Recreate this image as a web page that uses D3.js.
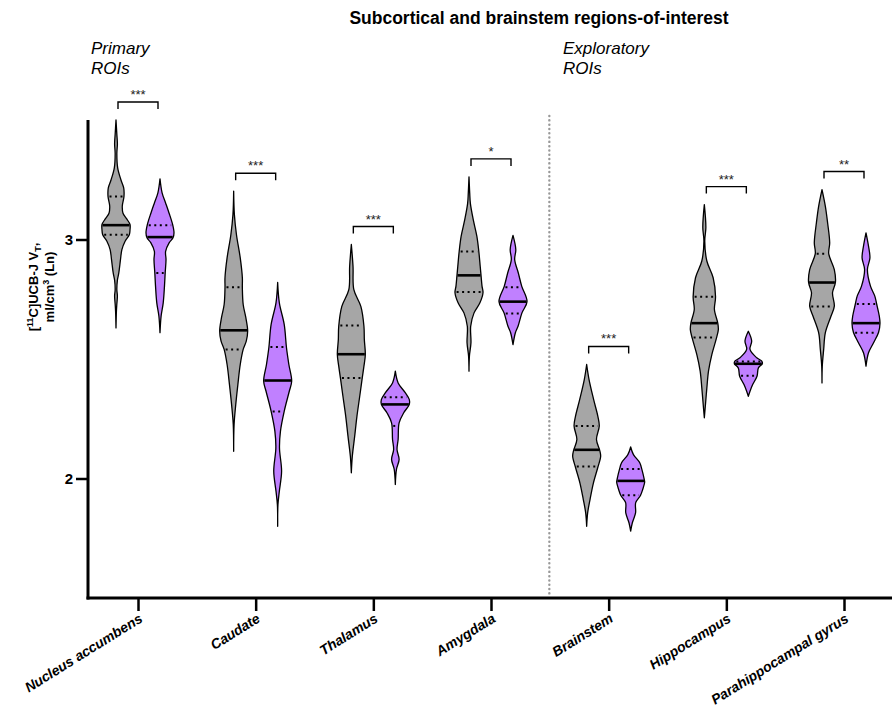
<!DOCTYPE html>
<html>
<head>
<meta charset="utf-8">
<script src="https://cdn.jsdelivr.net/npm/d3@7"></script>
<style>
  html, body { margin: 0; padding: 0; background: #fff; }
  svg { display: block; font-family: "Liberation Sans", Arial, sans-serif; }
</style>
</head>
<body>
<svg id="chart" width="892" height="713"></svg>
<script>
// Regions of interest and group comparison stars
const categories = ["Nucleus accumbens", "Caudate", "Thalamus", "Amygdala", "Brainstem", "Hippocampus", "Parahippocampal gyrus"];
const significance = ["***", "***", "***", "*", "***", "***", "**"];

// Summary statistics (Ln VT) for the gray group
const grayMedian = [3.06, 2.62, 2.52, 2.85, 2.12, 2.65, 2.82];
const grayQ1     = [3.02, 2.54, 2.42, 2.78, 2.05, 2.59, 2.72];
const grayQ3     = [3.18, 2.80, 2.64, 2.95, 2.22, 2.76, 2.94];

// Summary statistics (Ln VT) for the purple group
const purpleMedian = [3.01, 2.41, 2.31, 2.74, 1.99, 2.48, 2.65];
const purpleQ1     = [2.86, 2.28, 2.22, 2.69, 1.93, 2.43, 2.61];
const purpleQ3     = [3.06, 2.55, 2.34, 2.80, 2.04, 2.49, 2.73];

// Kernel density profiles: [value, relative density], from max to min
const grayDensity = [
  [[3.50,0],[3.44,0.06],[3.40,0.1],[3.36,0.06],[3.30,0.12],[3.25,0.35],[3.216,0.55],[3.18,0.57],[3.14,0.45],[3.11,0.5],[3.085,0.78],[3.063,1.0],[3.04,1.0],[3.02,0.95],[2.993,0.65],[2.958,0.42],[2.916,0.32],[2.86,0.2],[2.83,0.1],[2.79,0.06],[2.763,0.1],[2.73,0.06],[2.70,0.03],[2.63,0]],
  [[3.202,0],[3.105,0.05],[3.02,0.2],[2.923,0.47],[2.84,0.62],[2.798,0.62],[2.728,0.68],[2.673,0.87],[2.617,1.0],[2.575,0.9],[2.54,0.68],[2.477,0.47],[2.393,0.3],[2.31,0.15],[2.226,0.03],[2.114,0]],
  [[2.979,0],[2.888,0.12],[2.79,0.18],[2.72,0.68],[2.637,0.9],[2.58,0.93],[2.519,1.0],[2.47,0.9],[2.421,0.78],[2.344,0.6],[2.26,0.4],[2.177,0.24],[2.093,0.07],[2.024,0]],
  [[3.262,0],[3.195,0.05],[3.15,0.1],[3.084,0.3],[3.014,0.56],[2.951,0.7],[2.888,0.8],[2.849,0.86],[2.805,0.93],[2.777,1.0],[2.735,0.78],[2.693,0.36],[2.637,0.12],[2.568,0.14],[2.512,0.03],[2.449,0]],
  [[2.477,0],[2.414,0.17],[2.33,0.5],[2.26,0.8],[2.22,0.9],[2.163,0.7],[2.118,0.93],[2.093,1.0],[2.047,0.8],[1.981,0.48],[1.912,0.24],[1.856,0.07],[1.80,0]],
  [[3.146,0],[3.05,0.11],[2.993,0.03],[2.91,0.18],[2.84,0.63],[2.76,0.8],[2.707,0.72],[2.65,0.96],[2.623,1.0],[2.586,0.86],[2.519,0.54],[2.45,0.3],[2.379,0.18],[2.323,0.1],[2.254,0]],
  [[3.209,0],[3.139,0.24],[3.07,0.4],[2.986,0.55],[2.941,0.48],[2.874,0.88],[2.821,0.96],[2.777,0.75],[2.721,0.88],[2.679,0.64],[2.61,0.24],[2.54,0.12],[2.47,0.02],[2.40,0]]
];
const purpleDensity = [
  [[3.254,0],[3.195,0.15],[3.153,0.4],[3.11,0.65],[3.063,0.9],[3.028,1.0],[3.007,0.93],[2.986,0.65],[2.95,0.4],[2.916,0.43],[2.86,0.37],[2.805,0.32],[2.735,0.23],[2.68,0.08],[2.61,0]],
  [[2.82,0],[2.735,0.12],[2.644,0.47],[2.547,0.63],[2.477,0.8],[2.407,1.0],[2.365,0.83],[2.282,0.47],[2.198,0.2],[2.128,0.13],[2.03,0.28],[1.947,0.12],[1.89,0.02],[1.80,0]],
  [[2.449,0],[2.40,0.2],[2.358,0.72],[2.33,1.0],[2.31,1.0],[2.275,0.6],[2.233,0.27],[2.163,0.2],[2.121,0.12],[2.08,0.27],[2.038,0.08],[1.975,0]],
  [[3.017,0],[2.958,0.2],[2.916,0.12],[2.86,0.38],[2.805,0.62],[2.74,1.0],[2.693,0.64],[2.637,0.36],[2.61,0.17],[2.56,0]],
  [[2.132,0],[2.10,0.2],[2.066,0.65],[2.038,0.8],[1.996,0.97],[1.985,1.0],[1.954,0.86],[1.929,0.7],[1.899,0.36],[1.856,0.35],[1.815,0.12],[1.78,0]],
  [[2.616,0],[2.575,0.24],[2.54,0.12],[2.505,0.6],[2.491,0.96],[2.48,1.0],[2.463,0.72],[2.428,0.62],[2.393,0.31],[2.365,0.12],[2.344,0]],
  [[3.028,0],[2.972,0.18],[2.923,0.28],[2.874,0.1],[2.805,0.32],[2.763,0.63],[2.728,0.77],[2.679,0.95],[2.65,1.0],[2.612,0.9],[2.568,0.54],[2.526,0.18],[2.47,0]]
];

const yTicks = [2, 3];
const yDomain = [1.5, 3.5];
const primaryCount = 4;

const groups = [
  { key: "gray", fill: "#a6a6a6", offset: -22, density: grayDensity, median: grayMedian, q1: grayQ1, q3: grayQ3 },
  { key: "purple", fill: "#c080ff", offset: 22, density: purpleDensity, median: purpleMedian, q1: purpleQ1, q3: purpleQ3 }
];

const svg = d3.select("#chart");
const plot = { left: 88, right: 892, top: 120, bottom: 598 };

const y = d3.scaleLinear().domain(yDomain).range([plot.bottom, plot.top]);
const x = d3.scalePoint().domain(categories).range([138, 844]);
const halfWidth = d3.scaleLinear().domain([0, 1]).range([0, 14]);

// Width of a violin profile at a given value (linear between profile points)
function widthAt(profile, v) {
  for (let i = 0; i < profile.length - 1; i++) {
    const [v0, w0] = profile[i], [v1, w1] = profile[i + 1];
    if (v <= v0 && v >= v1) {
      const t = (v0 - v) / (v0 - v1);
      return w0 + t * (w1 - w0);
    }
  }
  return 0;
}

// Violins
groups.forEach(g => {
  categories.forEach((cat, i) => {
    const cx = x(cat) + g.offset;
    const prof = g.density[i];
    const area = d3.area()
      .y(d => y(d[0]))
      .x0(d => cx - halfWidth(d[1]))
      .x1(d => cx + halfWidth(d[1]))
      .curve(d3.curveCatmullRom.alpha(0.5));
    const gg = svg.append("g").attr("class", "violin " + g.key);
    gg.append("path")
      .datum(prof)
      .attr("d", area)
      .attr("fill", g.fill)
      .attr("stroke", "#000")
      .attr("stroke-width", 1.3)
      .attr("stroke-linejoin", "round");
    // quartiles
    [g.q1[i], g.q3[i]].forEach(q => {
      const w = halfWidth(widthAt(prof, q)) - 1.5;
      gg.append("line")
        .attr("x1", cx - w).attr("x2", cx + w)
        .attr("y1", y(q)).attr("y2", y(q))
        .attr("stroke", "#000")
        .attr("stroke-width", 2)
        .attr("stroke-dasharray", "2,3.5");
    });
    // median
    const wm = halfWidth(widthAt(prof, g.median[i])) - 0.5;
    gg.append("line")
      .attr("x1", cx - wm).attr("x2", cx + wm)
      .attr("y1", y(g.median[i])).attr("y2", y(g.median[i]))
      .attr("stroke", "#000")
      .attr("stroke-width", 2.6);
  });
});

// Significance brackets
categories.forEach((cat, i) => {
  const top = Math.max(grayDensity[i][0][0], purpleDensity[i][0][0]);
  const by = y(top) - 18;
  const x0 = x(cat) - 20, x1 = x(cat) + 20;
  svg.append("path")
    .attr("d", `M${x0},${by + 7}V${by}H${x1}V${by + 7}`)
    .attr("fill", "none")
    .attr("stroke", "#000")
    .attr("stroke-width", 1.4);
  svg.append("text")
    .attr("x", x(cat))
    .attr("y", by - 3)
    .attr("text-anchor", "middle")
    .attr("font-size", 13)
    .attr("fill", "#222")
    .text(significance[i]);
});

// Separator between primary and exploratory regions
const sepX = (x(categories[primaryCount - 1]) + x(categories[primaryCount])) / 2 - 0.5;
svg.append("line")
  .attr("x1", sepX).attr("x2", sepX)
  .attr("y1", 116).attr("y2", plot.bottom - 4)
  .attr("stroke", "#999")
  .attr("stroke-width", 2.4)
  .attr("stroke-linecap", "round")
  .attr("stroke-dasharray", "0.1,4.2");

// Y axis
const yAxis = svg.append("g")
  .attr("transform", `translate(${plot.left},0)`)
  .call(d3.axisLeft(y).tickValues(yTicks).tickFormat(d3.format("d")).tickSize(12).tickSizeOuter(0));
yAxis.select(".domain").remove();
yAxis.append("line")
  .attr("x1", 0).attr("x2", 0)
  .attr("y1", plot.top).attr("y2", plot.bottom + 1.5)
  .attr("stroke", "#000").attr("stroke-width", 3);
yAxis.selectAll(".tick line").attr("stroke", "#000").attr("stroke-width", 2.5);
yAxis.selectAll(".tick text")
  .attr("x", -15)
  .attr("font-size", 15)
  .attr("font-weight", "bold")
  .attr("fill", "#000")
  .attr("font-family", "Liberation Sans, Arial, sans-serif");

// X axis
const xAxis = svg.append("g")
  .attr("transform", `translate(0,${plot.bottom})`)
  .call(d3.axisBottom(x).tickSize(13).tickSizeOuter(0));
xAxis.select(".domain").remove();
xAxis.append("line")
  .attr("x1", plot.left - 1.5).attr("x2", plot.right)
  .attr("y1", 0).attr("y2", 0)
  .attr("stroke", "#000").attr("stroke-width", 3);
xAxis.selectAll(".tick line").attr("stroke", "#000").attr("stroke-width", 2.5);
xAxis.selectAll(".tick text")
  .attr("text-anchor", "end")
  .attr("x", 0).attr("y", 0).attr("dy", 0)
  .attr("transform", "translate(5,23) rotate(-32)")
  .attr("font-size", 14)
  .attr("font-weight", "bold")
  .attr("font-style", "italic")
  .attr("fill", "#000")
  .attr("font-family", "Liberation Sans, Arial, sans-serif");

// Y axis title
const yl1 = svg.append("text")
  .attr("transform", "translate(38,287) rotate(-90)")
  .attr("text-anchor", "middle")
  .attr("font-size", 13)
  .attr("font-weight", "bold");
yl1.append("tspan").text("[");
yl1.append("tspan").attr("font-size", 9).attr("dy", -5).text("11");
yl1.append("tspan").attr("dy", 5).text("C]UCB-J V");
yl1.append("tspan").attr("font-size", 9).attr("dy", 3).text("T");
yl1.append("tspan").attr("dy", -3).text(",");

const yl2 = svg.append("text")
  .attr("transform", "translate(54,287) rotate(-90)")
  .attr("text-anchor", "middle")
  .attr("font-size", 13)
  .attr("font-weight", "bold");
yl2.append("tspan").text("ml/cm");
yl2.append("tspan").attr("font-size", 9).attr("dy", -5).text("3");
yl2.append("tspan").attr("dy", 5).text(" (Ln)");

// Chart title
svg.append("text")
  .attr("x", 539).attr("y", 24)
  .attr("text-anchor", "middle")
  .attr("font-size", 17.5)
  .attr("font-weight", "bold")
  .text("Subcortical and brainstem regions-of-interest");

// Section labels
const sections = [
  { x: 91, lines: ["Primary", "ROIs"] },
  { x: 563, lines: ["Exploratory", "ROIs"] }
];
sections.forEach(s => {
  const t = svg.append("text")
    .attr("x", s.x).attr("y", 54)
    .attr("font-size", 17)
    .attr("font-style", "italic");
  s.lines.forEach((l, i) => {
    t.append("tspan").attr("x", s.x).attr("dy", i === 0 ? 0 : 20).text(l);
  });
});
</script>
</body>
</html>
